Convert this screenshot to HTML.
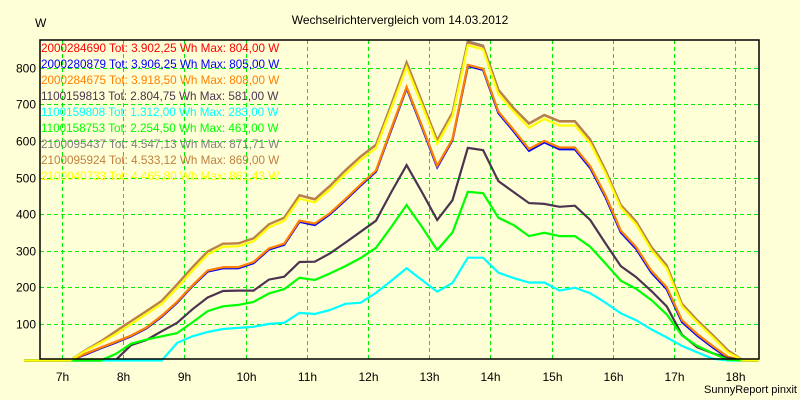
<!DOCTYPE html>
<html><head><meta charset="utf-8"><style>
html,body{margin:0;padding:0;background:#ffffd7;}
svg{display:block;font-family:"Liberation Sans",Arial,sans-serif;}
</style></head><body>
<svg id="chart" width="800" height="400" viewBox="0 0 800 400">
<rect x="0" y="0" width="800" height="400" fill="#ffffd7"/>
<text x="400" y="24" font-size="12" text-anchor="middle" fill="#000">Wechselrichtervergleich vom 14.03.2012</text>
<text x="35" y="27" font-size="12" fill="#000">W</text>
<text x="797" y="393" font-size="11" text-anchor="end" fill="#000">SunnyReport pinxit</text>
<g id="grid"></g>
<g id="series"></g>
<g id="axes"></g>
<g id="legend"></g>
</svg>
<script>
const times = [6.38,7.13,7.38,7.63,7.88,8.13,8.38,8.63,8.88,9.13,9.38,9.63,9.88,10.13,10.38,10.63,10.88,11.13,11.38,11.63,11.88,12.13,12.38,12.63,12.88,13.13,13.38,13.63,13.88,14.13,14.38,14.63,14.88,15.13,15.38,15.63,15.88,16.13,16.38,16.63,16.88,17.13,17.38,17.63,17.88,18.13,18.38];
const s2000284690 = [0,0,18,35,51,68,90,122,160,205,245,254,254,268,305,318,382,373,402,440,480,518,633,746,640,531,604,804,796,678,628,575,598,580,580,530,450,353,308,243,198,108,70,38,8,0,0];
const s2000280879 = [0,0,16,33,49,66,88,120,158,203,243,252,252,266,303,316,379,370,400,438,478,516,630,744,637,528,602,805,794,676,626,573,596,577,577,526,446,350,305,240,195,105,68,36,7,0,0];
const s2000284675 = [0,0,18,35,51,68,90,122,160,205,246,255,255,269,306,319,382,374,403,441,481,519,634,747,641,532,605,808,797,680,630,578,600,582,582,531,451,355,310,245,200,110,72,40,10,0,0];
const s1100159813 = [0,0,0,0,2,42,56,80,103,140,172,190,191,191,221,229,269,270,293,322,352,382,460,534,460,384,438,581,575,490,460,430,428,420,423,384,320,258,228,190,148,70,36,20,7,0,0];
const s1100159808 = [0,0,0,0,0,0,0,0,48,66,78,86,89,92,100,103,130,127,138,155,158,185,218,252,220,188,212,281,281,240,225,213,213,191,199,184,158,129,110,85,63,40,22,5,0,0,0];
const s1100158753 = [0,0,0,0,18,46,57,66,75,104,135,148,152,160,183,195,226,220,238,258,280,308,365,425,365,302,350,461,457,390,370,340,349,340,340,311,265,218,196,165,126,68,40,20,2,0,0];
const s2100095437 = [0,0,28,52,80,108,135,163,208,255,298,319,320,334,372,390,452,441,478,520,558,590,700,815,708,602,678,872,860,740,690,648,671,654,654,604,520,425,380,310,260,155,110,70,28,0,0];
const s2100095924 = [0,0,28,52,80,108,135,163,208,255,298,319,320,334,372,390,451,440,477,519,557,589,699,813,707,601,677,869,858,739,689,647,670,653,653,603,519,424,379,309,259,154,109,69,27,0,0];
const s2100040733 = [0,0,26,48,72,100,127,155,198,245,290,311,312,326,364,382,442,432,468,510,548,580,690,802,698,592,668,861,850,728,680,636,660,642,642,594,512,418,372,302,252,148,104,64,22,0,0];
const seriesNames = ["2000284690","2000280879","2000284675","1100159813","1100159808","1100158753","2100095437","2100095924","2100040733"];
const seriesTotals = ["3.902,25","3.906,25","3.918,50","2.804,75","1.312,00","2.254,50","4.547,13","4.533,12","4.465,80"];
const seriesMax = ["804,00","805,00","808,00","581,00","283,00","461,00","871,71","869,00","861,43"];
const seriesColors = ["#ff0000","#0000ff","#ff8000","#4c3450","#00ffff","#00ff00","#808080","#c08040","#ffff00"];
const allSeries = [s2000284690,s2000280879,s2000284675,s1100159813,s1100159808,s1100158753,s2100095437,s2100095924,s2100040733];
const yTicks = [100,200,300,400,500,600,700,800];
const xTickHours = [7,8,9,10,11,12,13,14,15,16,17,18];

const NS = "http://www.w3.org/2000/svg";
const L = 40, R = 759, T = 40, B = 359;
function xScale(h){ return 62 + (h - 7) * 61.2; }
function yScale(v){ return 360.5 - v * 0.366; }
function mk(tag, attrs, parent){ const e = document.createElementNS(NS, tag); for (const k in attrs) e.setAttribute(k, attrs[k]); parent.appendChild(e); return e; }

const grid = document.getElementById('grid');
const axes = document.getElementById('axes');
yTicks.forEach(v => {
  const y = Math.round(yScale(v)) + 0.5;
  const gl = mk('line', {x1:L, x2:R, y1:y, y2:y, stroke:'#00ee00', 'stroke-width':1, 'stroke-dasharray':'4,3'}, grid);
  
  
  const t = mk('text', {x:36, y:y + 4, 'font-size':12, 'text-anchor':'end', fill:'#000'}, axes);
  t.textContent = v;
  
  
});
xTickHours.forEach(h => {
  const x = Math.round(xScale(h)) + 0.5;
  const gl = mk('line', {x1:x, x2:x, y1:T, y2:B, stroke:'#00ee00', 'stroke-width':1, 'stroke-dasharray':'4,3'}, grid);
  
  
  const t = mk('text', {x:x, y:381, 'font-size':12, 'text-anchor':'middle', fill:'#000'}, axes);
  t.textContent = h + 'h';
  
  
});

const sg = document.getElementById('series');
allSeries.forEach((vals, i) => {
  const pts = vals.map((v, k) => xScale(times[k]).toFixed(1) + ',' + yScale(v).toFixed(1)).join(' ');
  const pl = mk('polyline', {points:pts, fill:'none', stroke:seriesColors[i], 'stroke-width':2.2, 'stroke-linejoin':'miter'}, sg);
  
  
});

const frame = mk('path', {d:'M'+L+','+T+' H'+R+' V'+B+' H'+L+' Z', fill:'none', stroke:'#000', 'stroke-width':1.5}, axes);



const lg = document.getElementById('legend');
seriesNames.forEach((n, i) => {
  const t = mk('text', {x:41, y:52 + i * 16, 'font-size':11.7, fill:seriesColors[i]}, lg);
  t.textContent = n + ' Tot: ' + seriesTotals[i] + ' Wh Max: ' + seriesMax[i] + ' W';
  
  
});
</script>
</body></html>
